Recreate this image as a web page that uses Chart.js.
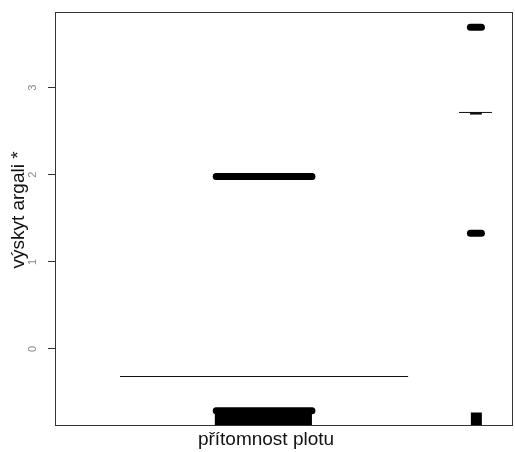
<!DOCTYPE html>
<html><head><meta charset="utf-8">
<script src="https://cdn.jsdelivr.net/npm/chart.js@4/dist/chart.umd.min.js"></script>
<style>html,body{margin:0;padding:0;background:#fff}#wrap{width:515px;height:452px;position:relative}</style>
</head><body><div id="wrap"><canvas id="c"></canvas></div>
<script>
// ---- data ----
const xTitle = 'přítomnost plotu';
const yTitle = 'výskyt argali *';
const yTicks = [0, 1, 2, 3];
const yRange = [-0.874, 3.87];
const xRange = [0, 1];                       // relative position along the factor axis
// fitted term per factor level (horizontal segments)
const termValues = [-0.317, 2.716];
const termSpanX = [[0.142, 0.771], [0.882, 0.954]];
const termDenseSpanX = [0.906, 0.932];      // darker piece on level-2 line
// partial residual clusters per level
const residLevel1 = [1.98, -0.71];
const residLevel2 = [3.695, 1.33];
const residSpanX = [[0.352, 0.561], [0.907, 0.931]];
// rug extent per level
const rugSpanX = [[0.349, 0.561], [0.908, 0.932]];

const ink = '#000';
const seg = (x0, x1, y) => [{x: x0, y: y}, {x: x1, y: y}];
const datasets = [];
termValues.forEach((v, i) => datasets.push({data: seg(termSpanX[i][0], termSpanX[i][1], v), borderColor: '#111', borderWidth: 1, pointRadius: 0}));
datasets.push({data: seg(termDenseSpanX[0], termDenseSpanX[1], termValues[1] - 0.01), borderColor: '#111', borderWidth: 2.5, pointRadius: 0});
[residLevel1, residLevel2].forEach((grp, i) => grp.forEach(v => datasets.push({
  data: seg(residSpanX[i][0], residSpanX[i][1], v), borderColor: ink, borderWidth: 7, borderCapStyle: 'round', pointRadius: 0
})));
rugSpanX.forEach(s => datasets.push({data: seg(s[0], s[1], yRange[0]), borderColor: ink, borderWidth: 25, borderCapStyle: 'butt', pointRadius: 0, clip: 0}));

const deco = {
  id: 'deco',
  afterDatasetsDraw(chart) {
    const {ctx, chartArea: a} = chart;
    ctx.save();
    ctx.strokeStyle = '#333'; ctx.lineWidth = 1;
    ctx.strokeRect(Math.round(a.left) + 0.5, Math.round(a.top) + 0.5, Math.round(a.right - a.left) - 1, Math.round(a.bottom - a.top));
    ctx.fillStyle = '#111';
    ctx.font = '19px "Liberation Sans", Arial, sans-serif';
    ctx.textAlign = 'center'; ctx.textBaseline = 'middle';
    ctx.fillText(xTitle, 266, 440);
    ctx.translate(19, 210); ctx.rotate(-Math.PI / 2);
    ctx.fillText(yTitle, 0, 0);
    ctx.restore();
  }
};

new Chart(document.getElementById('c'), {
  type: 'line',
  data: {datasets},
  options: {
    responsive: true, maintainAspectRatio: false, animation: false,
    layout: {padding: {top: 12, right: 2, bottom: 27, left: 0}},
    plugins: {legend: {display: false}, tooltip: {enabled: false}},
    scales: {
      x: {type: 'linear', min: xRange[0], max: xRange[1], display: false},
      y: {
        type: 'linear', min: yRange[0], max: yRange[1],
        afterBuildTicks: s => { s.ticks = yTicks.map(v => ({value: v})); },
        afterFit: s => { s.width = 55; s.paddingTop = 0; s.paddingBottom = 0; },
        border: {display: false},
        grid: {drawOnChartArea: false, drawTicks: true, tickLength: 7, color: '#333'},
        ticks: {minRotation: 90, maxRotation: 90, crossAlign: 'center', padding: 12,
                color: '#888', font: {family: '"Liberation Sans", Arial, sans-serif', size: 11}}
      }
    }
  },
  plugins: [deco]
});
</script></body></html>
